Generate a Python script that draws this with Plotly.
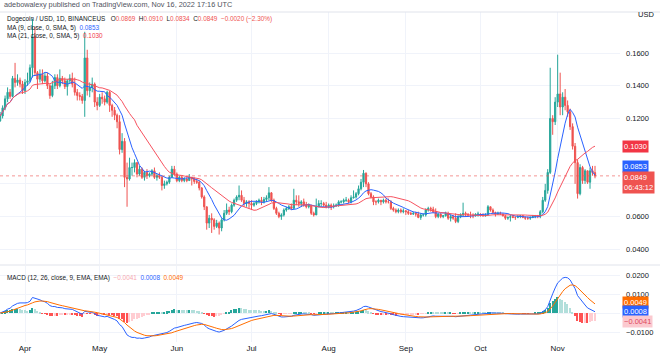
import pandas as pd
import numpy as np
import plotly.graph_objects as go
from plotly.subplots import make_subplots

# ---------------- data (DOGE/USD daily, Binance US) ----------------
start_date = "2022-03-22"
end_date = "2022-11-16"
first_open = 0.1185

close_mar = [.1215,.1265,.1320,.1360,.1335,.1445,.1420,.1435,.1410,.1370]
high_mar  = [.124,.128,.134,.139,.138,.146,.154,.147,.145,.143]
low_mar   = [.118,.120,.125,.130,.132,.133,.139,.140,.139,.135]

close_apr = [.1420,.1430,.1510,.1700,.1480,.1440,.1470,.1430,.1460,.1400,
             .1340,.1400,.1450,.1400,.1445,.1430,.1395,.1430,.1445,.1410,
             .1360,.1340,.1335,.1310,.1570,.1370,.1390,.1410,.1300,.1280]
high_apr  = [.144,.148,.153,.181,.176,.149,.150,.150,.148,.148,
             .141,.143,.147,.147,.150,.146,.145,.144,.147,.148,
             .145,.138,.136,.135,.173,.162,.142,.145,.142,.133]
low_apr   = [.135,.140,.142,.145,.146,.138,.142,.141,.142,.138,
             .132,.133,.138,.138,.139,.141,.138,.134,.141,.139,
             .134,.131,.131,.129,.121,.134,.133,.136,.127,.125]

close_may = [.1330,.1320,.1300,.1360,.1280,.1250,.1220,.1180,.1010,.1060,
             .0840,.0830,.0900,.0900,.0930,.0860,.0890,.0840,.0870,.0850,
             .0860,.0880,.0840,.0850,.0840,.0790,.0800,.0810,.0840,.0890,.0860]
high_may  = [.135,.136,.134,.137,.137,.129,.127,.123,.122,.111,
             .108,.093,.096,.093,.095,.093,.091,.090,.088,.089,
             .087,.089,.090,.086,.087,.085,.082,.082,.085,.091,.091]
low_may   = [.127,.129,.128,.129,.124,.121,.119,.114,.098,.099,
             .078,.066,.082,.085,.087,.084,.085,.083,.082,.083,
             .084,.085,.083,.082,.083,.076,.077,.079,.080,.084,.085]

close_jun = [.0820,.0840,.0820,.0830,.0820,.0840,.0830,.0815,.0810,.0775,
             .0720,.0660,.0560,.0590,.0580,.0540,.0560,.0530,.0580,.0620,
             .0640,.0630,.0670,.0700,.0720,.0730,.0700,.0680,.0690,.0680]
high_jun  = [.087,.085,.085,.084,.084,.086,.084,.084,.083,.082,
             .078,.073,.066,.061,.062,.059,.058,.057,.059,.064,
             .068,.066,.068,.071,.073,.079,.076,.072,.070,.070]
low_jun   = [.081,.081,.081,.081,.081,.082,.079,.080,.080,.076,
             .071,.064,.052,.053,.050,.052,.053,.049,.051,.057,
             .061,.061,.062,.066,.069,.070,.069,.066,.066,.065]

close_jul = [.0670,.0680,.0690,.0700,.0690,.0705,.0715,.0745,.0700,.0650,
             .0620,.0600,.0610,.0640,.0650,.0660,.0650,.0700,.0690,.0680,
             .0690,.0670,.0660,.0670,.0620,.0610,.0660,.0680,.0680,.0670,.0660]
high_jul  = [.070,.069,.070,.071,.072,.072,.073,.078,.075,.071,
             .066,.063,.062,.065,.066,.067,.068,.077,.073,.073,
             .070,.071,.069,.068,.067,.063,.071,.070,.070,.069,.069]
low_jul   = [.064,.066,.067,.068,.067,.068,.069,.070,.069,.064,
             .061,.059,.058,.060,.063,.064,.064,.065,.067,.066,
             .066,.066,.065,.065,.061,.060,.061,.066,.066,.066,.065]

close_aug = [.0670,.0660,.0665,.0670,.0690,.0690,.0700,.0700,.0690,.0715,
             .0720,.0740,.0770,.0810,.0865,.0800,.0740,.0720,.0690,.0690,
             .0700,.0690,.0700,.0690,.0690,.0650,.0640,.0630,.0640,.0630,.0635]
high_aug  = [.068,.068,.068,.068,.070,.070,.071,.072,.071,.073,
             .076,.075,.079,.083,.0885,.087,.081,.075,.073,.070,
             .071,.070,.071,.071,.071,.070,.066,.065,.065,.065,.065]
low_aug   = [.065,.064,.065,.066,.066,.068,.068,.069,.068,.068,
             .071,.071,.073,.076,.078,.078,.073,.071,.067,.067,
             .068,.067,.068,.068,.068,.064,.063,.062,.062,.062,.062]

close_sep = [.0630,.0620,.0615,.0620,.0615,.0595,.0610,.0610,.0640,.0650,
             .0645,.0630,.0600,.0615,.0600,.0605,.0620,.0590,.0600,.0590,
             .0570,.0600,.0610,.0620,.0615,.0610,.0610,.0605,.0615,.0615]
high_sep  = [.064,.064,.063,.063,.063,.063,.062,.062,.065,.066,
             .066,.066,.065,.062,.062,.061,.063,.063,.061,.061,
             .062,.061,.062,.0685,.063,.062,.063,.062,.062,.063]
low_sep   = [.061,.061,.061,.061,.060,.059,.058,.060,.060,.063,
             .063,.062,.059,.059,.059,.059,.060,.058,.057,.058,
             .056,.056,.059,.060,.060,.060,.059,.059,.060,.060]

close_oct = [.0610,.0605,.0610,.0660,.0640,.0625,.0615,.0620,.0615,.0605,
             .0590,.0595,.0600,.0595,.0595,.0600,.0605,.0595,.0590,.0590,
             .0595,.0600,.0605,.0600,.0630,.0700,.0760,.0870,.1200,.1180,.1300]
high_oct  = [.062,.062,.062,.067,.066,.065,.063,.063,.063,.062,
             .061,.060,.061,.061,.060,.061,.061,.061,.060,.060,
             .060,.061,.061,.061,.064,.072,.080,.089,.151,.122,.133]
low_oct   = [.060,.060,.060,.061,.063,.062,.060,.061,.061,.060,
             .058,.058,.057,.059,.058,.059,.059,.059,.058,.058,
             .058,.059,.059,.059,.059,.062,.069,.074,.086,.110,.116]

close_nov = [.1350,.1270,.1330,.1280,.1240,.1150,.1030,.0930,.0740,.0900,
             .0820,.0880,.0810,.0880,.0869,.0849]
high_nov  = [.159,.148,.136,.138,.131,.126,.117,.105,.095,.092,
             .091,.089,.088,.090,.091,.0910]
low_nov   = [.127,.122,.122,.125,.121,.113,.101,.080,.071,.073,
             .080,.080,.080,.077,.085,.0834]

month_ticks = ["2022-04-01","2022-05-01","2022-06-01","2022-07-01",
               "2022-08-01","2022-09-01","2022-10-01","2022-11-01"]
month_labels = ["Apr","May","Jun","Jul","Aug","Sep","Oct","Nov"]
price_ticks = [0.04,0.06,0.08,0.10,0.12,0.14,0.16]
price_labels = ["0.0400","0.0600","","","0.1200","0.1400","0.1600"]
macd_ticks = [-0.01,0.0,0.01,0.02]
macd_labels = ["\u22120.0100","","0.0100","0.0200"]

# ---------------- assemble ----------------
close = close_mar+close_apr+close_may+close_jun+close_jul+close_aug+close_sep+close_oct+close_nov
high = high_mar+high_apr+high_may+high_jun+high_jul+high_aug+high_sep+high_oct+high_nov
low = low_mar+low_apr+low_may+low_jun+low_jul+low_aug+low_sep+low_oct+low_nov
dates = pd.date_range(start_date, end_date, freq="D")
assert len(close) == len(dates) == len(high) == len(low)
opens = [first_open] + close[:-1]
high = [max(h, o, c) for h, o, c in zip(high, opens, close)]
low = [min(l, o, c) for l, o, c in zip(low, opens, close)]

s = pd.Series(close, index=dates)
ma9 = s.rolling(9, min_periods=1).mean()
ma21 = s.rolling(21, min_periods=1).mean()
ema12 = s.ewm(span=12, adjust=False).mean()
ema26 = s.ewm(span=26, adjust=False).mean()
macd = ema12 - ema26
signal = macd.ewm(span=9, adjust=False).mean()
hist = macd - signal
prev = hist.shift(1).fillna(0)
hcol = []
for h, p in zip(hist, prev):
    if h >= 0:
        hcol.append("#26a69a" if h > p else "#b2dfdb")
    else:
        hcol.append("#ff5252" if h < p else "#ffcdd2")

UP, DN = "#26a69a", "#ef5350"
FONT = "Liberation Sans, Arial, sans-serif"
GRID = "#f0f3fa"

fig = make_subplots(rows=2, cols=1, shared_xaxes=True)
fig.add_trace(go.Candlestick(
    x=dates, open=opens, high=high, low=low, close=close,
    increasing=dict(line=dict(color=UP, width=1), fillcolor=UP),
    decreasing=dict(line=dict(color=DN, width=1), fillcolor=DN),
    whiskerwidth=0, showlegend=False, hoverinfo="skip"), row=1, col=1)
fig.add_trace(go.Scatter(x=dates, y=ma9, mode="lines",
                         line=dict(color="#2962ff", width=1), hoverinfo="skip"), row=1, col=1)
fig.add_trace(go.Scatter(x=dates, y=ma21, mode="lines",
                         line=dict(color="#f7525f", width=1), hoverinfo="skip"), row=1, col=1)

fig.add_trace(go.Bar(x=dates, y=hist, marker=dict(color=hcol, line=dict(width=0)),
                     width=86400000*0.55, hoverinfo="skip"), row=2, col=1)
fig.add_trace(go.Scatter(x=dates, y=macd, mode="lines",
                         line=dict(color="#2962ff", width=1), hoverinfo="skip"), row=2, col=1)
fig.add_trace(go.Scatter(x=dates, y=signal, mode="lines",
                         line=dict(color="#ff6d00", width=1), hoverinfo="skip"), row=2, col=1)

PH = 330.0  # plot height in px (top 12, bottom 342)
def py(pix):
    return (342 - pix) / PH

xr = ["2022-03-21 22:56", "2022-11-26 01:00"]
fig.update_layout(
    width=660, height=359, margin=dict(l=0, r=40, t=12, b=17, autoexpand=False),
    paper_bgcolor="white", plot_bgcolor="white", showlegend=False,
    font=dict(family=FONT, size=8, color="#131722"),
    bargap=0,
    yaxis=dict(domain=[py(264), 1], side="right", range=[0.031, 0.1851],
               tickvals=price_ticks, ticktext=price_labels, gridcolor=GRID,
               zeroline=False, showline=False, ticks="", ticklabelstandoff=5,
               automargin=False, tickfont=dict(size=7.5, color="#131722")),
    yaxis2=dict(domain=[0, py(266)], side="right", range=[-0.01526, 0.02474],
                tickvals=macd_ticks, ticktext=macd_labels, gridcolor=GRID,
                zeroline=False, showline=False, ticks="", ticklabelstandoff=5,
                automargin=False, tickfont=dict(size=7.5, color="#131722")),
    xaxis=dict(range=xr, tickvals=month_ticks, showticklabels=False, gridcolor=GRID,
               zeroline=False, showline=False, automargin=False,
               rangeslider=dict(visible=False)),
    xaxis2=dict(range=xr, tickvals=month_ticks, ticktext=month_labels, gridcolor=GRID,
                zeroline=False, showline=False, ticks="", automargin=False,
                tickfont=dict(size=8, color="#131722"), rangeslider=dict(visible=False)),
)
fig.update_xaxes(rangeslider_visible=False)

shapes = [
    dict(type="line", xref="paper", yref="paper", x0=0, x1=1.07, y0=py(265), y1=py(265),
         line=dict(color="#e0e3eb", width=1)),
    dict(type="line", xref="paper", yref="paper", x0=0, x1=1.07, y0=1, y1=1,
         line=dict(color="#e0e3eb", width=1)),
    dict(type="line", xref="x domain", yref="y", x0=0, x1=1, y0=0.0849, y1=0.0849,
         line=dict(color="#ef5350", width=1, dash="dot"), opacity=0.6),
]
fig.update_layout(shapes=shapes)

def span(t, c):
    return f'<span style="color:{c}">{t}</span>'

NB = "\u00a0"
GR = "#50535e"
ann = []
ann.append(dict(text="adebowalexy published on TradingView.com, Nov 16, 2022 17:16 UTC",
                x=0.003, y=py(5), font=dict(size=7.3, color=GR)))
ann.append(dict(text=span("Dogecoin / USD, 1D, BINANCEUS", "#131722") + NB*3 +
                "O" + span("0.0869", DN) + NB*2 + "H" + span("0.0910", DN) + NB*2 +
                "L" + span("0.0834", DN) + NB*2 + "C" + span("0.0849", DN) + NB*2 +
                span("\u22120.0020 (\u22122.30%)", DN),
                x=0.008, y=py(19), font=dict(size=6.4, color="#131722")))
ann.append(dict(text="MA (9, close, 0, SMA, 5)" + NB*2 + span("0.0853", "#2962ff"),
                x=0.008, y=py(27.5), font=dict(size=6.4, color="#131722")))
ann.append(dict(text="MA (21, close, 0, SMA, 5)" + NB*2 + span("0.1030", "#f23645"),
                x=0.008, y=py(36), font=dict(size=6.4, color="#131722")))
ann.append(dict(text="MACD (12, 26, close, 9, EMA, EMA)" + NB*2 + span("\u22120.0041", "#f7a8b0") +
                NB*2 + span("0.0008", "#2962ff") + NB*2 + span("0.0049", "#ff6d00"),
                x=0.008, y=py(278), font=dict(size=6.4, color="#131722")))
ann.append(dict(text="USD", x=1.026, y=py(15), font=dict(size=7.5, color="#131722")))
for a in ann:
    a.update(xref="paper", yref="paper", xanchor="left", yanchor="middle", showarrow=False)

def box(text, yval, yref, bg, fc="white", yshift=0, yanchor="middle"):
    return dict(text=text, x=1.003, y=yval, xref="paper", yref=yref, xanchor="left",
                yanchor=yanchor, yshift=yshift, showarrow=False, bgcolor=bg,
                borderpad=1, align="left", font=dict(size=7.5, color=fc))

ann.append(box("0.1030", 0.1030, "y", "#f23645"))
ann.append(box("0.0853", 0.0853, "y", "#2962ff", yshift=9))
ann.append(box("0.0849<br>06:43:12", 0.0849, "y", "#ef5350", yanchor="top", yshift=5))
ann.append(box("0.0049", 0.0049, "y2", "#ff6d00", yshift=1))
ann.append(box("0.0008", 0.0008, "y2", "#2962ff"))
ann.append(box("\u22120.0041", -0.0041, "y2", "#fbc9cf", fc="#e04a5c", yshift=-1))
fig.update_layout(annotations=ann)

fig.write_html("out.html", config={"displayModeBar": False},
               post_script="document.body.style.margin='0';document.body.style.padding='0';")
